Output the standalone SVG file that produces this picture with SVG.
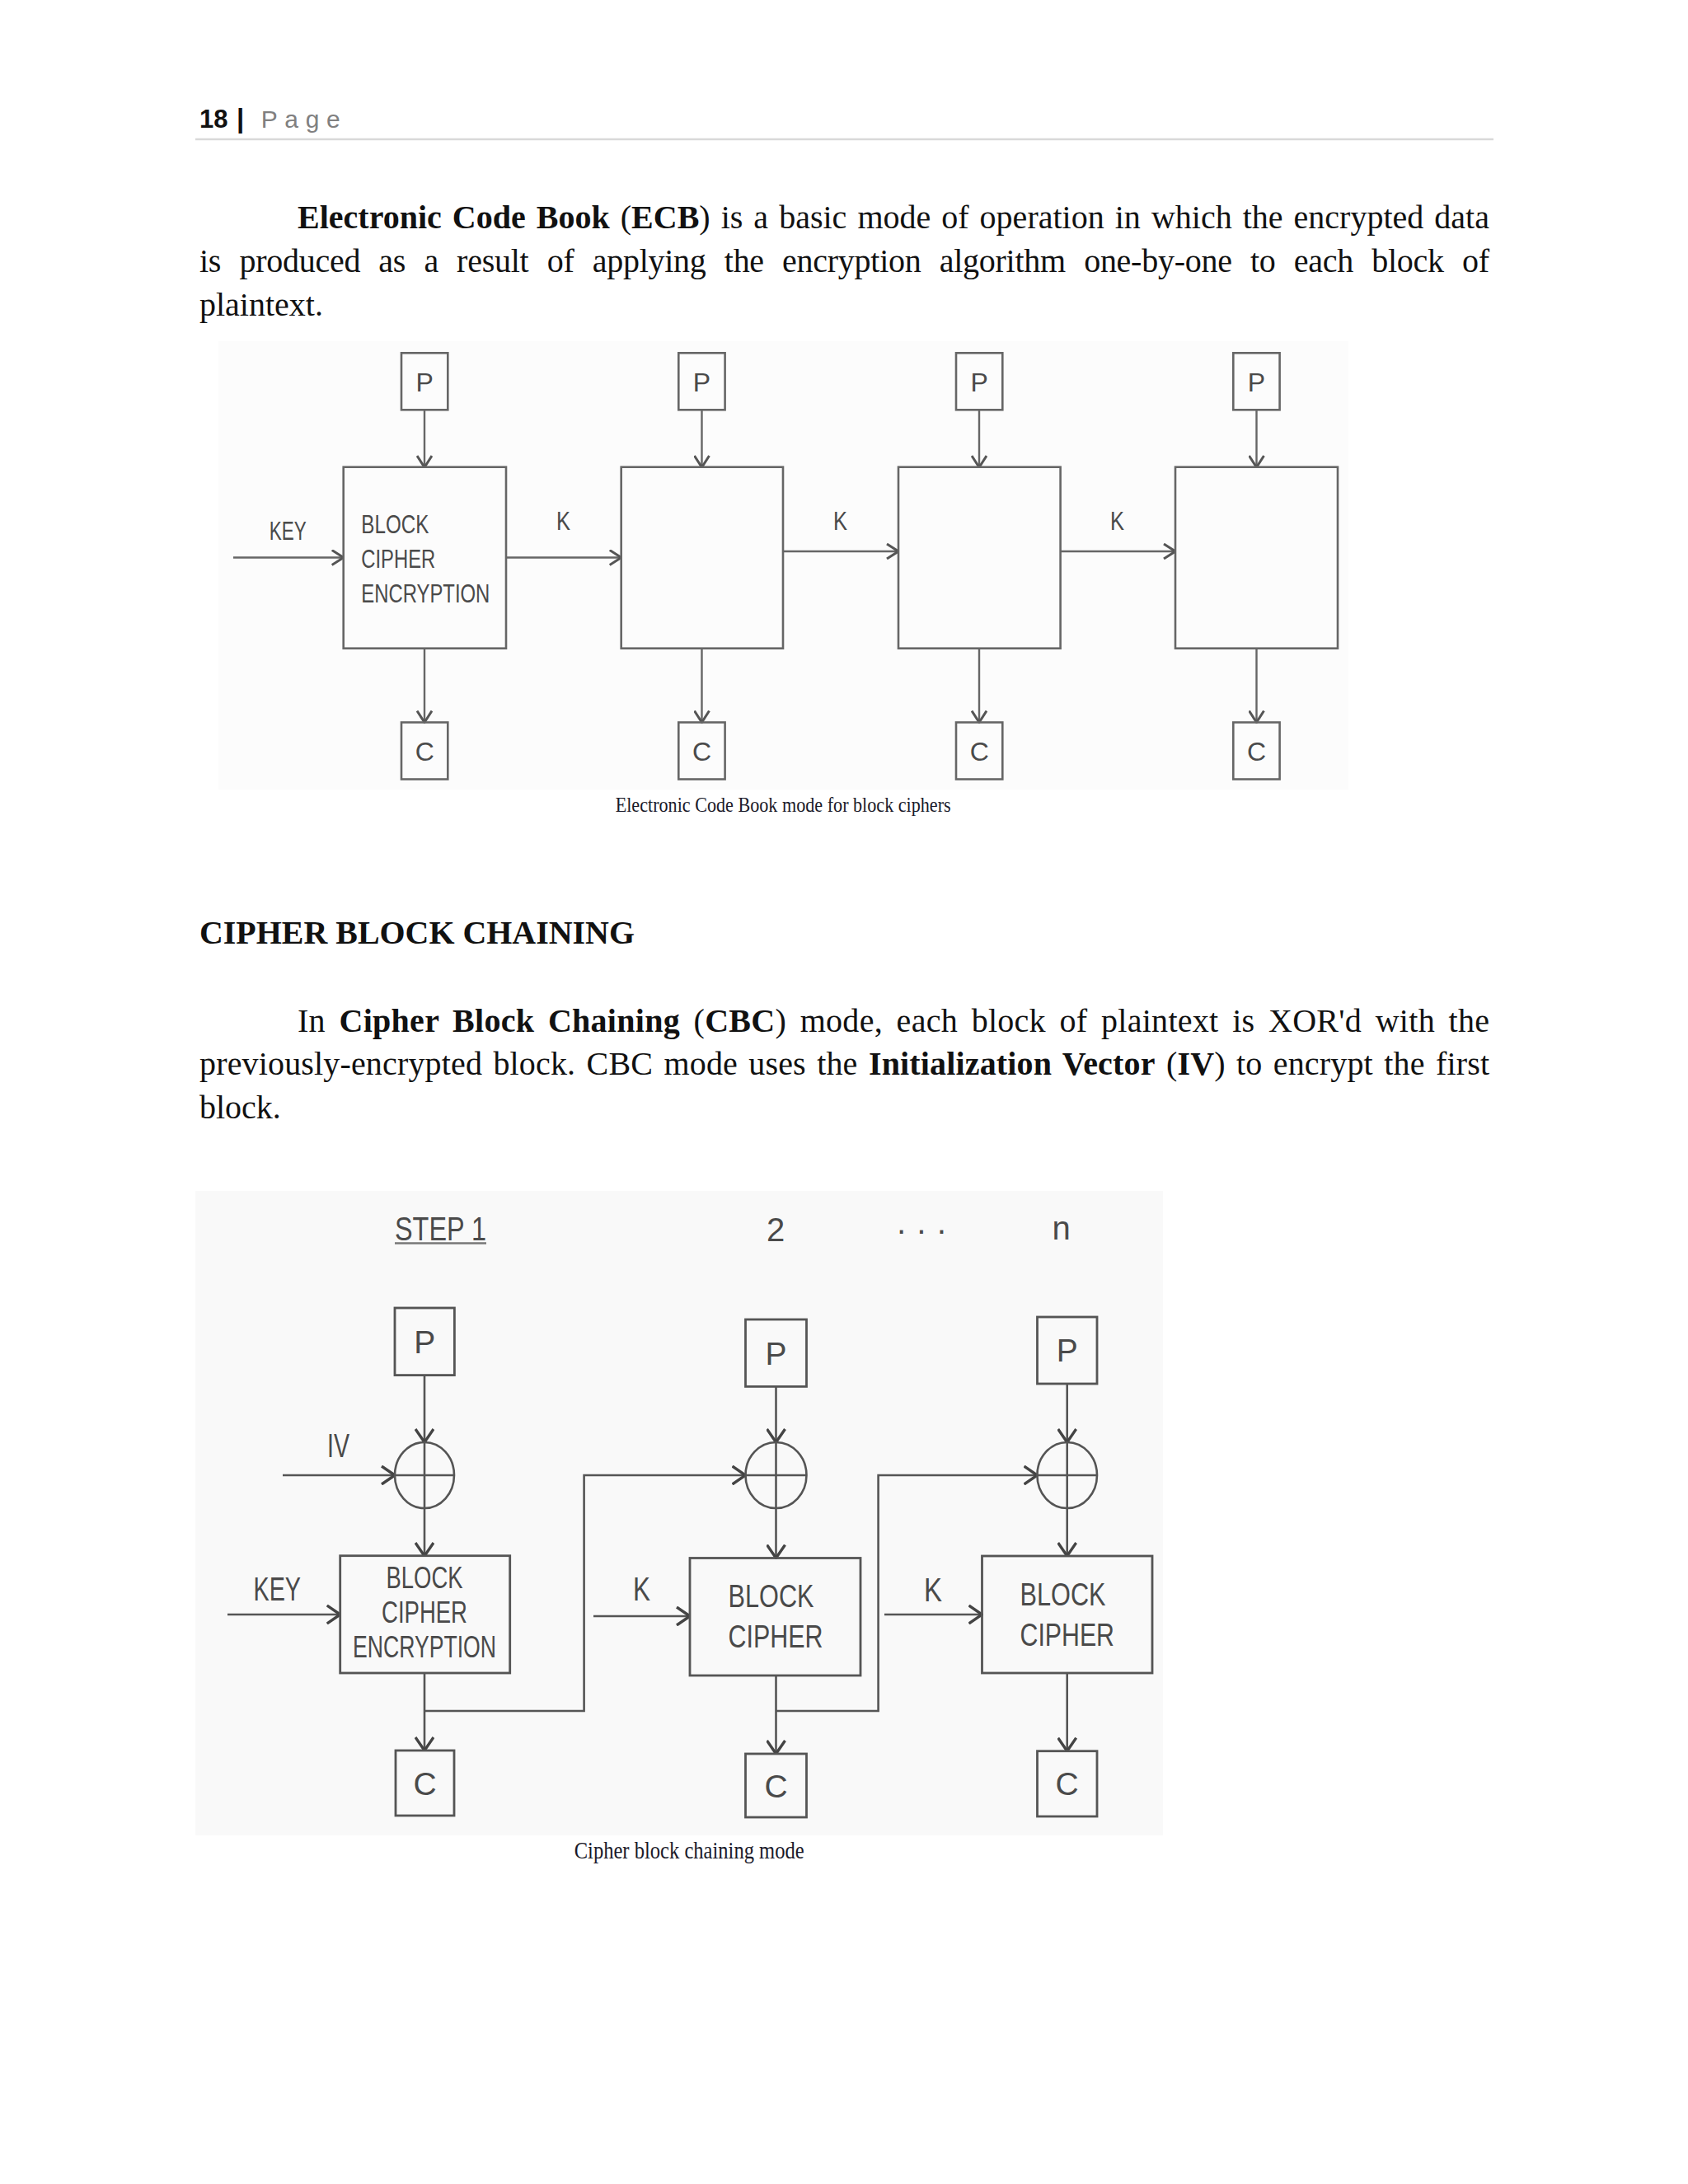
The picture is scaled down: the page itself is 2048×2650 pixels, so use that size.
<svg xmlns="http://www.w3.org/2000/svg" width="2048" height="2650" viewBox="0 0 2048 2650">
<defs>
<style>
.body{font-family:"Liberation Serif","Times New Roman",serif;font-size:40px;fill:#111}
.b{font-weight:bold}
.cap{font-family:"Liberation Serif","Times New Roman",serif;fill:#1a1a2a}
.lbl{font-family:"Liberation Sans Narrow","Liberation Sans",Arial,sans-serif;fill:#4a4a4a}
.box{fill:none;stroke:#666;stroke-width:2.6}
.cbox{fill:none;stroke:#555;stroke-width:2.8}
.ln{fill:none;stroke:#666;stroke-width:2.4}
.cln{fill:none;stroke:#555;stroke-width:2.6}
</style>
<marker id="ah" viewBox="0 0 16 20" refX="15" refY="10" markerWidth="16" markerHeight="20" markerUnits="userSpaceOnUse" orient="auto">
<path d="M1,1 L15,10 L1,19" fill="none" stroke="#555" stroke-width="3"/>
</marker>
<marker id="ahc" viewBox="0 0 18 24" refX="17" refY="12" markerWidth="18" markerHeight="24" markerUnits="userSpaceOnUse" orient="auto">
<path d="M1,1 L17,12 L1,23" fill="none" stroke="#444" stroke-width="3.4"/>
</marker>
</defs>
<rect x="0" y="0" width="2048" height="2650" fill="#ffffff"/>

<!-- header -->
<g id="header">
<text x="242" y="155" font-family="'Liberation Sans',Arial,sans-serif" font-size="31" font-weight="bold" fill="#111">18</text>
<text x="287" y="155" font-family="'Liberation Sans',Arial,sans-serif" font-size="33" font-weight="bold" fill="#111">|</text>
<text x="316.7" y="155" font-family="'Liberation Sans',Arial,sans-serif" font-size="30" fill="#808080" textLength="96" lengthAdjust="spacing">Page</text>
<line x1="237" y1="169" x2="1812" y2="169" stroke="#d9d9d9" stroke-width="2.5"/>
</g>

<!-- paragraph 1 -->
<g id="para1">
<text class="body" x="361" y="277" word-spacing="3" textLength="1446" lengthAdjust="spacing"><tspan class="b">Electronic Code Book</tspan> (<tspan class="b">ECB</tspan>) is a basic mode of operation in which the encrypted data</text>
<text class="body" x="242" y="330" word-spacing="12.5" textLength="1565" lengthAdjust="spacing">is produced as a result of applying the encryption algorithm one-by-one to each block of</text>
<text class="body" x="242" y="383">plaintext.</text>
</g>

<!-- ECB diagram -->
<rect x="265" y="414" width="1371" height="544" fill="#fcfcfc"/>
<g id="ecb-connectors">
<line class="ln" x1="515" y1="497" x2="515" y2="567" marker-end="url(#ah)"/>
<line class="ln" x1="851.5" y1="497" x2="851.5" y2="567" marker-end="url(#ah)"/>
<line class="ln" x1="1188" y1="497" x2="1188" y2="567" marker-end="url(#ah)"/>
<line class="ln" x1="1524.5" y1="497" x2="1524.5" y2="567" marker-end="url(#ah)"/>
<line class="ln" x1="515" y1="787" x2="515" y2="876.5" marker-end="url(#ah)"/>
<line class="ln" x1="851.5" y1="787" x2="851.5" y2="876.5" marker-end="url(#ah)"/>
<line class="ln" x1="1188" y1="787" x2="1188" y2="876.5" marker-end="url(#ah)"/>
<line class="ln" x1="1524.5" y1="787" x2="1524.5" y2="876.5" marker-end="url(#ah)"/>
<line class="ln" x1="283" y1="676.5" x2="416.7" y2="676.5" marker-end="url(#ah)"/>
<line class="ln" x1="614" y1="676.5" x2="753.7" y2="676.5" marker-end="url(#ah)"/>
<line class="ln" x1="950" y1="669" x2="1090" y2="669" marker-end="url(#ah)"/>
<line class="ln" x1="1286.6" y1="669" x2="1426" y2="669" marker-end="url(#ah)"/>
<text class="lbl" x="326.7" y="655" font-size="32" textLength="45" lengthAdjust="spacingAndGlyphs">KEY</text>
<text class="lbl" x="675" y="643" font-size="32" textLength="17" lengthAdjust="spacingAndGlyphs">K</text>
<text class="lbl" x="1011" y="643" font-size="32" textLength="17" lengthAdjust="spacingAndGlyphs">K</text>
<text class="lbl" x="1347" y="643" font-size="32" textLength="17" lengthAdjust="spacingAndGlyphs">K</text>
</g>
<g id="ecb-p1"><rect class="box" x="487" y="428.3" width="56.3" height="69"/><text class="lbl" x="515.2" y="475" font-size="32" text-anchor="middle">P</text></g>
<g id="ecb-p2"><rect class="box" x="823.3" y="428.3" width="56.3" height="69"/><text class="lbl" x="851.5" y="475" font-size="32" text-anchor="middle">P</text></g>
<g id="ecb-p3"><rect class="box" x="1160" y="428.3" width="56.3" height="69"/><text class="lbl" x="1188.2" y="475" font-size="32" text-anchor="middle">P</text></g>
<g id="ecb-p4"><rect class="box" x="1496.3" y="428.3" width="56.3" height="69"/><text class="lbl" x="1524.5" y="475" font-size="32" text-anchor="middle">P</text></g>
<g id="ecb-b1"><rect class="box" x="416.7" y="566.7" width="197.3" height="220"/>
<text class="lbl" x="438.3" y="647" font-size="32" textLength="82" lengthAdjust="spacingAndGlyphs">BLOCK</text>
<text class="lbl" x="438.3" y="688.5" font-size="32" textLength="90" lengthAdjust="spacingAndGlyphs">CIPHER</text>
<text class="lbl" x="438.3" y="730.5" font-size="32" textLength="156" lengthAdjust="spacingAndGlyphs">ENCRYPTION</text></g>
<g id="ecb-b2"><rect class="box" x="753.7" y="566.7" width="196.3" height="220"/></g>
<g id="ecb-b3"><rect class="box" x="1090" y="566.7" width="196.6" height="220"/></g>
<g id="ecb-b4"><rect class="box" x="1426" y="566.7" width="197" height="220"/></g>
<g id="ecb-c1"><rect class="box" x="487" y="876.5" width="56.3" height="69"/><text class="lbl" x="515.2" y="923" font-size="32" text-anchor="middle">C</text></g>
<g id="ecb-c2"><rect class="box" x="823.3" y="876.5" width="56.3" height="69"/><text class="lbl" x="851.5" y="923" font-size="32" text-anchor="middle">C</text></g>
<g id="ecb-c3"><rect class="box" x="1160" y="876.5" width="56.3" height="69"/><text class="lbl" x="1188.2" y="923" font-size="32" text-anchor="middle">C</text></g>
<g id="ecb-c4"><rect class="box" x="1496.3" y="876.5" width="56.3" height="69"/><text class="lbl" x="1524.5" y="923" font-size="32" text-anchor="middle">C</text></g>
<text class="cap" x="746.7" y="984.5" font-size="26" textLength="407" lengthAdjust="spacingAndGlyphs">Electronic Code Book mode for block ciphers</text>

<!-- heading -->
<text class="body b" x="242" y="1145" textLength="528" lengthAdjust="spacingAndGlyphs">CIPHER BLOCK CHAINING</text>

<!-- paragraph 2 -->
<g id="para2">
<text class="body" x="361" y="1252" word-spacing="6.4" textLength="1446" lengthAdjust="spacing">In <tspan class="b">Cipher Block Chaining</tspan> (<tspan class="b">CBC</tspan>) mode, each block of plaintext is XOR'd with the</text>
<text class="body" x="242" y="1304" word-spacing="3.2" textLength="1565" lengthAdjust="spacing">previously-encrypted block. CBC mode uses the <tspan class="b">Initialization Vector</tspan> (<tspan class="b">IV</tspan>) to encrypt the first</text>
<text class="body" x="242" y="1357">block.</text>
</g>

<!-- CBC diagram -->
<rect x="237" y="1445" width="1174" height="782" fill="#f9f9f9"/>
<g id="cbc-steps">
<text class="lbl" x="479" y="1504.5" font-size="40" textLength="111" lengthAdjust="spacingAndGlyphs">STEP 1</text>
<line x1="479" y1="1508.5" x2="590" y2="1508.5" stroke="#777" stroke-width="2.5"/>
<text class="lbl" x="941" y="1506" font-size="40" text-anchor="middle">2</text>
<text class="lbl" x="1118" y="1506" font-size="40" text-anchor="middle">· · ·</text>
<text class="lbl" x="1287.5" y="1504" font-size="40" text-anchor="middle">n</text>
</g>
<g id="cbc-connectors">
<line class="cln" x1="515" y1="1669" x2="515" y2="1750" marker-end="url(#ahc)"/>
<line class="cln" x1="515" y1="1830" x2="515" y2="1888" marker-end="url(#ahc)"/>
<line class="cln" x1="343" y1="1790" x2="479" y2="1790" marker-end="url(#ahc)"/>
<line class="cln" x1="276" y1="1959" x2="412.7" y2="1959" marker-end="url(#ahc)"/>
<line class="cln" x1="515" y1="2030" x2="515" y2="2124" marker-end="url(#ahc)"/>
<polyline class="cln" points="515,2076 708.6,2076 708.6,1790 904.5,1790" marker-end="url(#ahc)"/>
<line class="cln" x1="941.5" y1="1682" x2="941.5" y2="1750" marker-end="url(#ahc)"/>
<line class="cln" x1="941.5" y1="1830" x2="941.5" y2="1890.5" marker-end="url(#ahc)"/>
<line class="cln" x1="720" y1="1961" x2="837" y2="1961" marker-end="url(#ahc)"/>
<line class="cln" x1="941.5" y1="2033" x2="941.5" y2="2128" marker-end="url(#ahc)"/>
<polyline class="cln" points="941.5,2076 1065.6,2076 1065.6,1790 1258.5,1790" marker-end="url(#ahc)"/>
<line class="cln" x1="1294.7" y1="1679" x2="1294.7" y2="1750" marker-end="url(#ahc)"/>
<line class="cln" x1="1294.7" y1="1830" x2="1294.7" y2="1888" marker-end="url(#ahc)"/>
<line class="cln" x1="1073" y1="1959" x2="1191.5" y2="1959" marker-end="url(#ahc)"/>
<line class="cln" x1="1294.7" y1="2030" x2="1294.7" y2="2124.7" marker-end="url(#ahc)"/>
<text class="lbl" x="397" y="1768" font-size="41" textLength="27" lengthAdjust="spacingAndGlyphs">IV</text>
<text class="lbl" x="307.5" y="1942" font-size="40" textLength="57.5" lengthAdjust="spacingAndGlyphs">KEY</text>
<text class="lbl" x="768" y="1942" font-size="40" textLength="21" lengthAdjust="spacingAndGlyphs">K</text>
<text class="lbl" x="1121" y="1942.5" font-size="40" textLength="22" lengthAdjust="spacingAndGlyphs">K</text>
</g>
<g id="cbc-p1"><rect class="cbox" x="479" y="1587" width="72.4" height="81.6"/><text class="lbl" x="515.2" y="1642" font-size="39" text-anchor="middle">P</text></g>
<g id="cbc-p2"><rect class="cbox" x="904.5" y="1601" width="74" height="81.4"/><text class="lbl" x="941.5" y="1656" font-size="39" text-anchor="middle">P</text></g>
<g id="cbc-p3"><rect class="cbox" x="1258.5" y="1598" width="72.5" height="81"/><text class="lbl" x="1294.7" y="1652" font-size="39" text-anchor="middle">P</text></g>
<g id="cbc-x1"><ellipse class="cln" cx="515" cy="1790" rx="36" ry="40"/><line class="cln" x1="515" y1="1750" x2="515" y2="1830"/><line class="cln" x1="479" y1="1790" x2="551" y2="1790"/></g>
<g id="cbc-x2"><ellipse class="cln" cx="941.5" cy="1790" rx="37" ry="40"/><line class="cln" x1="941.5" y1="1750" x2="941.5" y2="1830"/><line class="cln" x1="904.5" y1="1790" x2="978.5" y2="1790"/></g>
<g id="cbc-x3"><ellipse class="cln" cx="1294.7" cy="1790" rx="36.3" ry="40"/><line class="cln" x1="1294.7" y1="1750" x2="1294.7" y2="1830"/><line class="cln" x1="1258.5" y1="1790" x2="1331" y2="1790"/></g>
<g id="cbc-b1"><rect class="cbox" x="412.7" y="1887.7" width="206" height="142.3"/>
<text class="lbl" x="515" y="1926.6" font-size="37" text-anchor="middle" textLength="93" lengthAdjust="spacingAndGlyphs">BLOCK</text>
<text class="lbl" x="515" y="1969" font-size="37" text-anchor="middle" textLength="104" lengthAdjust="spacingAndGlyphs">CIPHER</text>
<text class="lbl" x="515" y="2011" font-size="37" text-anchor="middle" textLength="174" lengthAdjust="spacingAndGlyphs">ENCRYPTION</text></g>
<g id="cbc-b2"><rect class="cbox" x="837" y="1890.5" width="207" height="142.5"/>
<text class="lbl" x="883.5" y="1950" font-size="39" textLength="104" lengthAdjust="spacingAndGlyphs">BLOCK</text>
<text class="lbl" x="883.5" y="1998.7" font-size="39" textLength="115" lengthAdjust="spacingAndGlyphs">CIPHER</text></g>
<g id="cbc-b3"><rect class="cbox" x="1191.5" y="1888" width="206.5" height="142"/>
<text class="lbl" x="1237.5" y="1948" font-size="39" textLength="104" lengthAdjust="spacingAndGlyphs">BLOCK</text>
<text class="lbl" x="1237.5" y="1996.5" font-size="39" textLength="114.5" lengthAdjust="spacingAndGlyphs">CIPHER</text></g>
<g id="cbc-c1"><rect class="cbox" x="480" y="2124" width="71" height="79"/><text class="lbl" x="515.5" y="2178" font-size="39" text-anchor="middle">C</text></g>
<g id="cbc-c2"><rect class="cbox" x="904.5" y="2128" width="74" height="77"/><text class="lbl" x="941.5" y="2181" font-size="39" text-anchor="middle">C</text></g>
<g id="cbc-c3"><rect class="cbox" x="1258.5" y="2124.7" width="72.5" height="79.3"/><text class="lbl" x="1294.7" y="2178" font-size="39" text-anchor="middle">C</text></g>
<text class="cap" x="696.7" y="2255" font-size="30" textLength="279" lengthAdjust="spacingAndGlyphs">Cipher block chaining mode</text>
</svg>
